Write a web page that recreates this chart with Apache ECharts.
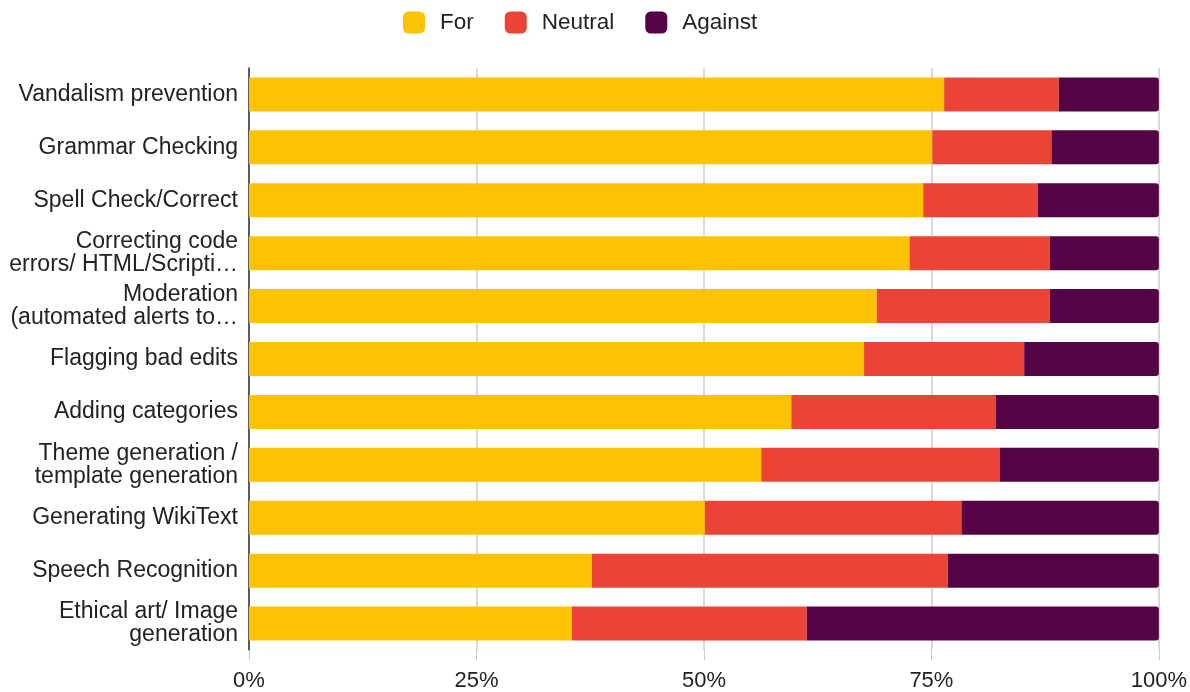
<!DOCTYPE html>
<html style="height: 100%">
<head>
    <meta charset="utf-8">
    <script src="https://cdn.jsdelivr.net/npm/echarts@6/dist/echarts.min.js"></script>
</head>
<body style="height:100%;margin:0;background:#fff">
    <div id="main" style="width:1190px;height:692px;"></div>
    <script type="text/javascript">
        // categories, top to bottom
        var categories = [
            'Vandalism prevention',
            'Grammar Checking',
            'Spell Check/Correct',
            'Correcting code\nerrors/ HTML/Scripti\u2026',
            'Moderation\n(automated alerts to\u2026',
            'Flagging bad edits',
            'Adding categories',
            'Theme generation /\ntemplate generation',
            'Generating WikiText',
            'Speech Recognition',
            'Ethical art/ Image\ngeneration'
        ];
        // shares in percent
        var forVals     = [76.4, 75.1, 74.1, 72.6, 69.0, 67.6, 59.6, 56.3, 50.1, 37.7, 35.5];
        var neutralVals = [12.6, 13.1, 12.6, 15.4, 19.0, 17.6, 22.5, 26.2, 28.2, 39.1, 25.8];
        var againstVals = [11.0, 11.8, 13.3, 12.0, 12.0, 14.8, 17.9, 17.5, 21.7, 23.2, 38.7];
        var tickLabels = ['0%', '25%', '50%', '75%', '100%'];

        var font = 'Liberation Sans, Arial, sans-serif';
        var myChart = echarts.init(document.getElementById('main'));

        option = {
            animation: false,
            textStyle: { fontFamily: font },
            legend: {
                top: 6,
                left: 398,
                itemWidth: 22,
                itemHeight: 22,
                itemGap: 31,
                textStyle: { fontSize: 22.5, color: '#222', fontFamily: font, padding: [0, 0, 0, 10] },
                data: ['For', 'Neutral', 'Against']
            },
            grid: { left: 249, right: 31, top: 68, bottom: 41 },
            xAxis: {
                type: 'value',
                min: 0,
                max: 100,
                interval: 25,
                axisLine: { show: false },
                axisTick: { show: true, length: 10, lineStyle: { color: '#ccc' } },
                splitLine: { show: true, lineStyle: { color: '#ccc', width: 1.5 } },
                axisLabel: {
                    margin: 20,
                    fontSize: 22,
                    color: '#222',
                    fontFamily: font,
                    formatter: function (v) { return tickLabels[v / 25]; }
                }
            },
            yAxis: {
                type: 'category',
                inverse: true,
                data: categories,
                axisLine: { show: true, lineStyle: { color: '#333', width: 1.5 } },
                axisTick: { show: false },
                axisLabel: {
                    margin: 11,
                    fontSize: 23,
                    lineHeight: 23,
                    color: '#222',
                    fontFamily: font
                }
            },
            series: [
                {
                    name: 'For', type: 'bar', stack: 'total', barWidth: 34,
                    itemStyle: { color: '#FBC303' },
                    data: forVals
                },
                {
                    name: 'Neutral', type: 'bar', stack: 'total', barWidth: 34,
                    itemStyle: { color: '#EB4436' },
                    data: neutralVals
                },
                {
                    name: 'Against', type: 'bar', stack: 'total', barWidth: 34,
                    itemStyle: { color: '#540344', borderRadius: [0, 3, 3, 0] },
                    data: againstVals
                }
            ]
        };
        myChart.setOption(option);
    </script>
</body>
</html>
